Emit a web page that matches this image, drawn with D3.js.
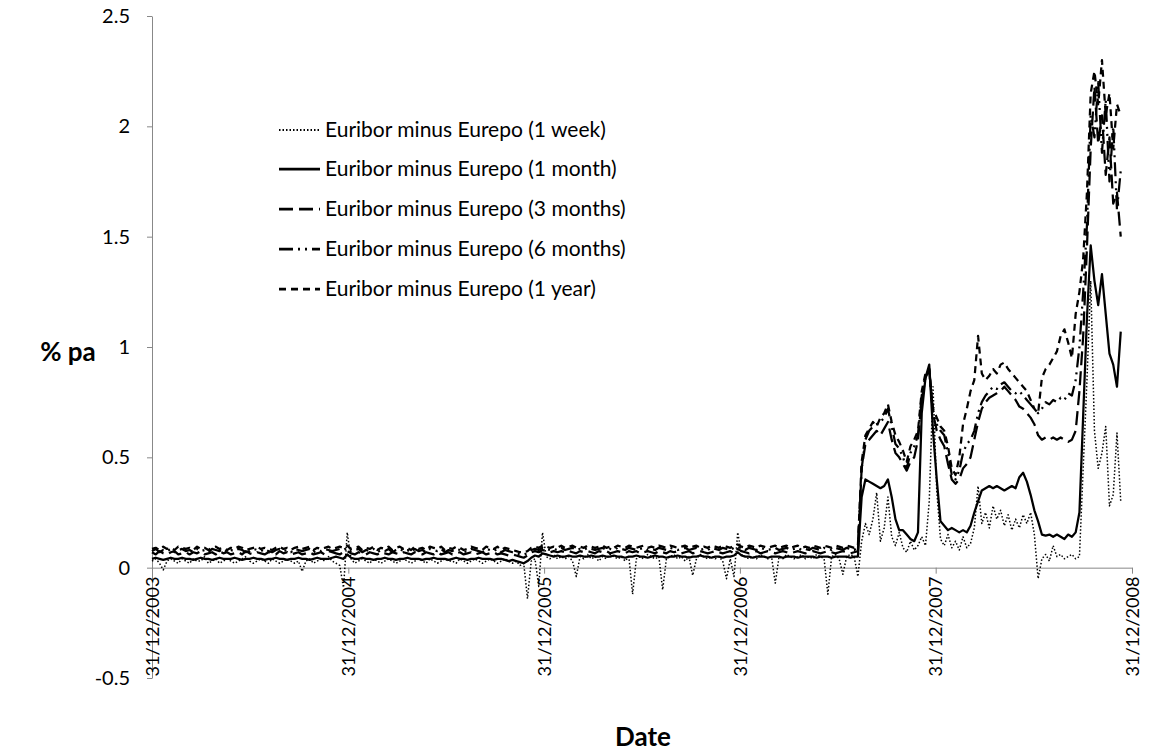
<!DOCTYPE html>
<html><head><meta charset="utf-8">
<script src="https://cdn.jsdelivr.net/npm/d3@7"></script>
<style>
body{margin:0;background:#fff}
svg{display:block}
text{font-family:Lato,"Open Sans",sans-serif;fill:#000}
</style>
</head><body>
<svg id="c" width="1155" height="752"></svg>
<script>
// ---------- data ----------
const seriesNames = ["Euribor minus Eurepo (1 week)","Euribor minus Eurepo (1 month)","Euribor minus Eurepo (3 months)","Euribor minus Eurepo (6 months)","Euribor minus Eurepo (1 year)"];
const yTicks = [-0.5,0,0.5,1,1.5,2,2.5];
const yTickLabels = ["-0.5","0","0.5","1","1.5","2","2.5"];
const xTickLabels = ["31/12/2003","31/12/2004","31/12/2005","31/12/2006","31/12/2007","31/12/2008"];
const xTickDates = [new Date(2003,11,31),new Date(2004,11,31),new Date(2005,11,31),new Date(2006,11,31),new Date(2007,11,31),new Date(2008,11,31)];
// weekly observation dates, starting 31/12/2003
const firstDate = new Date(2003,11,31);

const week1 = [.03,.04,.02,-.01,.03,.04,.03,.02,.04,.03,
 .02,.04,.03,.03,.05,.02,.03,.04,.02,.03,
 .04,.03,.02,.03,.04,.05,.03,.02,.03,.04,
 .03,.02,.04,.03,.02,.03,.04,.03,.02,.03,
 -.017,.03,.04,.02,.03,.04,.03,.05,.03,.02,
 .01,-.09,.16,.04,.02,.03,.04,.03,.02,.04,
 .03,.02,.03,.04,.03,.02,.03,.04,.03,.02,
 .03,.04,.03,.02,.04,.03,.02,.03,.04,.03,
 .03,.02,.04,.03,.02,.03,.04,.03,.02,.03,
 .04,.03,.02,.03,.04,.03,.02,.03,.01,.02,
 -.14,.03,.04,-.085,.16,.05,.04,.06,.04,.05,
 .04,.05,.03,-.04,.05,.04,.06,.04,.05,.03,
 .05,.04,.06,.05,.04,.05,.03,.05,-.12,.04,
 .05,.04,.06,.05,.04,.05,-.10,.04,.05,.06,
 .04,.05,.03,.05,-.035,.04,.06,.05,.04,.05,
 .04,.05,.03,-.05,.04,-.04,.16,.06,.05,.04,
 .05,.04,.06,.05,.04,.05,-.07,.05,.04,.06,
 .05,.04,.05,.06,.04,.05,.04,.06,.05,.04,
 -.12,.05,.06,.04,-.03,.05,.06,.05,-.04,
 .12,.20,.15,.22,.34,.12,.18,.32,.14,.10,
 .16,.09,.07,.12,.08,.10,.14,.10,.30,.82,
 .35,.13,.10,.15,.09,.12,.08,.14,.09,.11,
 .18,.37,.20,.25,.18,.28,.22,.26,.19,.24,
 .17,.22,.18,.24,.20,.25,.15,-.05,.04,.06,
 .03,.10,.05,.06,.04,.05,.06,.04,.05,.45,
 .85,1.30,.62,.45,.52,.64,.28,.33,.61,.30];

const month1 = [.04,.045,.04,.035,.04,.045,.04,.04,.045,.04,
 .04,.035,.04,.045,.04,.04,.035,.04,.045,.04,
 .04,.04,.045,.04,.035,.04,.04,.045,.04,.04,
 .035,.04,.04,.045,.04,.04,.035,.04,.04,.045,
 .04,.04,.035,.04,.045,.04,.04,.04,.045,.05,
 .045,.04,.06,.045,.04,.04,.045,.04,.04,.035,
 .04,.04,.045,.04,.04,.035,.04,.04,.045,.04,
 .04,.04,.035,.04,.04,.045,.04,.04,.04,.035,
 .04,.045,.04,.04,.035,.04,.04,.045,.04,.04,
 .04,.035,.04,.04,.035,.03,.035,.03,.025,.02,
 .03,.045,.055,.05,.065,.06,.055,.05,.055,.05,
 .05,.055,.05,.05,.055,.05,.05,.055,.05,.05,
 .055,.05,.05,.055,.05,.05,.045,.05,.05,.055,
 .05,.05,.045,.05,.055,.05,.05,.045,.05,.05,
 .055,.05,.05,.045,.05,.05,.055,.05,.05,.045,
 .05,.05,.045,.05,.05,.055,.07,.055,.05,.05,
 .045,.05,.05,.05,.045,.05,.05,.05,.045,.05,
 .05,.05,.045,.05,.05,.05,.05,.045,.05,.05,
 .05,.045,.05,.05,.05,.05,.045,.05,.05,
 .32,.40,.39,.38,.37,.36,.37,.40,.32,.22,
 .17,.17,.15,.13,.12,.16,.70,.86,.92,.62,
 .40,.21,.19,.17,.18,.17,.16,.17,.16,.19,
 .25,.30,.35,.36,.37,.36,.37,.36,.35,.36,
 .37,.36,.41,.43,.39,.33,.26,.21,.15,.145,
 .15,.14,.15,.14,.13,.15,.14,.16,.25,.69,
 1.13,1.46,1.30,1.19,1.33,1.15,.97,.92,.82,1.07];

const months3 = [.07,.06,.075,.065,.06,.07,.075,.06,.065,.07,
 .06,.07,.065,.075,.06,.065,.07,.06,.075,.065,
 .07,.06,.065,.07,.06,.075,.065,.06,.07,.065,
 .06,.07,.065,.06,.075,.065,.07,.06,.065,.07,
 .06,.065,.07,.06,.065,.07,.06,.075,.07,.065,
 .06,.07,.075,.065,.06,.07,.065,.06,.07,.065,
 .06,.07,.065,.06,.07,.065,.06,.07,.065,.06,
 .07,.065,.06,.07,.065,.06,.07,.06,.065,.07,
 .06,.065,.07,.06,.065,.07,.06,.065,.07,.06,
 .065,.07,.06,.065,.06,.055,.06,.055,.05,.045,
 .055,.07,.075,.07,.08,.075,.07,.075,.07,.075,
 .07,.075,.07,.065,.075,.07,.075,.07,.065,.075,
 .07,.075,.065,.07,.075,.07,.065,.075,.07,.075,
 .065,.07,.075,.07,.065,.075,.07,.065,.075,.07,
 .075,.065,.07,.075,.065,.07,.075,.07,.065,.07,
 .075,.07,.065,.07,.075,.065,.085,.075,.07,.065,
 .07,.075,.065,.07,.075,.07,.065,.07,.075,.07,
 .065,.07,.075,.07,.065,.07,.075,.07,.065,.07,
 .075,.07,.065,.07,.075,.07,.065,.07,.075,
 .45,.56,.58,.60,.62,.60,.63,.66,.58,.52,
 .50,.47,.44,.48,.50,.58,.76,.86,.90,.70,
 .62,.58,.55,.47,.40,.38,.40,.45,.47,.50,
 .58,.66,.72,.75,.77,.78,.79,.80,.82,.80,
 .78,.76,.73,.72,.70,.68,.65,.60,.58,.59,
 .58,.59,.58,.59,.58,.57,.58,.62,.80,1.05,
 1.45,1.90,2.18,1.92,2.05,1.78,1.95,1.65,1.70,1.50];

const months6 = [.075,.085,.07,.08,.075,.085,.07,.08,.085,.075,
 .08,.07,.085,.075,.08,.07,.085,.08,.075,.085,
 .07,.08,.075,.085,.08,.07,.075,.085,.08,.075,
 .085,.075,.07,.08,.085,.075,.08,.07,.085,.08,
 .075,.08,.085,.07,.08,.075,.085,.08,.075,.08,
 .085,.08,.09,.075,.08,.085,.07,.08,.075,.085,
 .07,.08,.075,.085,.07,.08,.085,.075,.08,.07,
 .085,.075,.08,.07,.085,.08,.075,.085,.07,.08,
 .075,.085,.08,.07,.075,.085,.08,.075,.07,.085,
 .08,.075,.085,.07,.08,.075,.07,.065,.06,.06,
 .065,.08,.085,.08,.09,.085,.08,.085,.08,.09,
 .08,.085,.09,.08,.085,.08,.09,.085,.08,.085,
 .09,.08,.085,.08,.09,.085,.08,.09,.085,.08,
 .085,.09,.08,.085,.08,.09,.085,.08,.09,.085,
 .08,.085,.09,.08,.085,.09,.08,.085,.08,.09,
 .085,.08,.09,.085,.08,.09,.095,.085,.08,.09,
 .085,.08,.09,.085,.08,.085,.09,.08,.085,.09,
 .08,.085,.09,.08,.085,.08,.09,.085,.08,.09,
 .085,.08,.09,.085,.08,.09,.085,.08,.09,
 .45,.58,.62,.64,.65,.66,.68,.72,.64,.56,
 .54,.50,.45,.52,.55,.60,.78,.87,.89,.70,
 .65,.62,.60,.52,.42,.40,.44,.52,.56,.58,
 .62,.70,.75,.78,.80,.82,.81,.83,.84,.82,
 .80,.79,.80,.78,.76,.74,.72,.70,.72,.75,
 .74,.76,.75,.77,.76,.79,.78,.85,1.0,1.25,
 1.55,2.05,1.95,2.20,1.88,2.12,1.75,2.0,1.62,1.80];

const year1 = [.085,.09,.08,.095,.085,.09,.08,.095,.09,.085,
 .09,.08,.095,.085,.09,.08,.09,.095,.085,.09,
 .08,.09,.085,.095,.09,.08,.085,.09,.095,.085,
 .09,.085,.08,.09,.095,.085,.09,.08,.09,.095,
 .085,.09,.095,.08,.09,.085,.09,.095,.085,.09,
 .095,.09,.10,.085,.09,.095,.08,.09,.085,.095,
 .08,.09,.085,.095,.08,.09,.095,.085,.09,.08,
 .095,.085,.09,.08,.095,.09,.085,.095,.08,.09,
 .085,.095,.09,.08,.085,.095,.09,.085,.08,.095,
 .09,.085,.095,.08,.09,.085,.08,.075,.07,.07,
 .075,.09,.095,.09,.10,.095,.09,.095,.09,.10,
 .09,.095,.10,.09,.095,.09,.10,.095,.09,.095,
 .10,.09,.095,.09,.10,.095,.09,.10,.095,.09,
 .095,.10,.09,.095,.09,.10,.095,.09,.10,.095,
 .09,.095,.10,.09,.095,.10,.09,.095,.09,.10,
 .095,.09,.10,.095,.09,.10,.105,.095,.09,.10,
 .095,.09,.10,.095,.09,.095,.10,.09,.095,.10,
 .09,.095,.10,.09,.095,.09,.10,.095,.09,.10,
 .095,.09,.10,.095,.09,.10,.095,.09,.10,
 .48,.60,.63,.66,.64,.68,.70,.74,.66,.60,
 .57,.53,.48,.55,.58,.62,.80,.88,.90,.72,
 .68,.64,.62,.55,.45,.42,.50,.65,.72,.80,
 .85,1.05,.88,.85,.87,.90,.88,.92,.93,.90,
 .88,.86,.84,.82,.80,.76,.72,.70,.86,.90,
 .92,.95,.98,1.05,1.08,1.02,.95,1.15,1.25,1.40,
 1.70,2.15,2.25,2.10,2.30,2.05,2.15,1.90,2.10,2.05];

const seriesValues = [week1, month1, months3, months6, year1];
const dates = d3.range(week1.length).map(i => d3.timeDay.offset(firstDate, 7*i));

// ---------- styles ----------
const styles = [
  {w:1.5, dash:"1.5,2"},
  {w:2.25, dash:null},
  {w:2.25, dash:"14,6"},
  {w:2.25, dash:"14,5,2,5,2,5"},
  {w:2.25, dash:"7,5"}
];

const svg = d3.select("#c");
const x = d3.scaleTime().domain([xTickDates[0], xTickDates[5]]).range([152,1132]);
const y = d3.scaleLinear().domain([-0.5,2.5]).range([678,16]);

// y axis
const gy = svg.append("g").attr("transform","translate(152,0)")
  .call(d3.axisLeft(y).tickValues(yTicks).tickSize(5).tickSizeOuter(0)
    .tickFormat(d => yTickLabels[yTicks.indexOf(d)]));
gy.select(".domain").attr("stroke","#888");
gy.selectAll(".tick line").attr("stroke","#888");
gy.selectAll(".tick text").attr("font-size",20).attr("x",-22).style("font-family","Lato,sans-serif");

// x axis at 0
const gx = svg.append("g").attr("transform",`translate(0,${y(0)})`)
  .call(d3.axisBottom(x).tickValues(xTickDates).tickSize(6).tickSizeOuter(0)
    .tickFormat((d,i) => xTickLabels[i]));
gx.select(".domain").attr("stroke","#888");
gx.selectAll(".tick line").attr("stroke","#888");
gx.selectAll(".tick text").attr("font-size",18).attr("transform","rotate(-90)")
  .attr("x",-9).attr("y",0).attr("dy","0.35em").attr("text-anchor","end")
  .style("font-family","Lato,sans-serif");

// lines
const line = d3.line().x((d,i)=>x(dates[i])).y(d=>y(d));
seriesValues.forEach((vals,k) => {
  svg.append("path").datum(vals).attr("d", line)
    .attr("fill","none").attr("stroke","#000")
    .attr("stroke-width", styles[k].w)
    .attr("stroke-dasharray", styles[k].dash)
    .attr("stroke-linejoin","round");
});

// legend
const legRows = [130,169,209,249,289];
seriesNames.forEach((name,k) => {
  const g = svg.append("g").attr("transform",`translate(0,${legRows[k]})`);
  g.append("line").attr("x1",279).attr("x2",320).attr("y1",0).attr("y2",0)
    .attr("stroke","#000").attr("stroke-width",styles[k].w + 0.5).attr("stroke-dasharray",styles[k].dash);
  g.append("text").attr("x",325).attr("y",0).attr("dy","0.35em").attr("font-size",21).text(name);
});

// axis titles
svg.append("text").attr("x",68).attr("y",352).attr("dy","0.35em").attr("text-anchor","middle")
  .attr("font-size",26).attr("font-weight","bold").text("% pa");
svg.append("text").attr("x",643).attr("y",737).attr("dy","0.35em").attr("text-anchor","middle")
  .attr("font-size",26).attr("font-weight","bold").text("Date");
</script>
</body></html>
